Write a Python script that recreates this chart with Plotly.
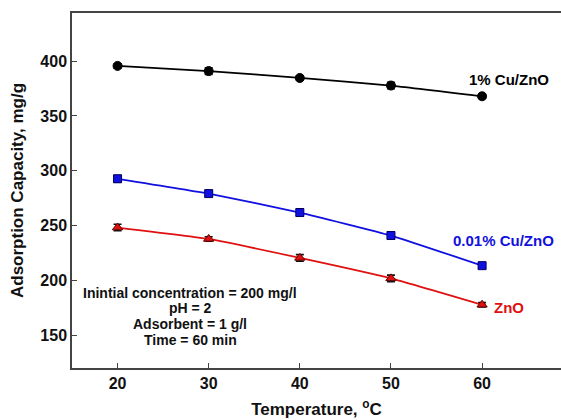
import plotly.graph_objects as go

temps = [20, 30, 40, 50, 60]
cu1 = [395.7, 391.0, 384.7, 377.8, 368.0]
cu1_err = [2, 3, 2, 3, 2]
cu001 = [292.7, 279.2, 261.9, 240.9, 213.4]
cu001_err = [3, 2, 3, 3, 2]
zno = [248.2, 237.8, 220.5, 201.8, 177.7]
zno_err = [3, 2, 3, 3, 2]

FONT = "Liberation Sans, Arial, sans-serif"

fig = go.Figure()

def add(y, err, color, edge, symbol, size):
    fig.add_trace(go.Scatter(
        x=temps, y=y, mode="lines+markers",
        line=dict(color=color, width=1.8, shape="spline", smoothing=0.4),
        marker=dict(symbol=symbol, size=size, color=color, line=dict(color=edge, width=1)),
        error_y=dict(type="data", array=err, visible=True, color="#111111", thickness=1.6, width=4),
        showlegend=False,
    ))

add(cu1, cu1_err, "#000000", "#000000", "circle", 9)
add(cu001, cu001_err, "#1010E0", "#000060", "square", 8)
add(zno, zno_err, "#E01010", "#600000", "triangle-up", 9)

ann = [
    dict(x=63, y=383.5, text="<b>1% Cu/ZnO</b>", color="#000000"),
    dict(x=62.4, y=236.3, text="<b>0.01% Cu/ZnO</b>", color="#1010E0"),
    dict(x=63.0, y=175.3, text="<b>ZnO</b>", color="#E01010"),
]
for a in ann:
    fig.add_annotation(x=a["x"], y=a["y"], xref="x", yref="y", text=a["text"], showarrow=False,
                       font=dict(family=FONT, size=15, color=a["color"]))

info = ["Inintial concentration = 200 mg/l", "pH = 2", "Adsorbent = 1 g/l", "Time = 60 min"]
info_y = [188.6, 174.4, 159.8, 145.2]
for t, yy in zip(info, info_y):
    fig.add_annotation(x=28, y=yy, xref="x", yref="y", text="<b>" + t + "</b>", showarrow=False,
                       font=dict(family=FONT, size=14, color="#111111"))

fig.update_layout(
    width=561, height=420,
    margin=dict(l=72, r=0, t=13, b=52),
    paper_bgcolor="white", plot_bgcolor="white",
    font=dict(family=FONT, color="#111111"),
)
fig.update_xaxes(
    range=[15, 68.66], tickvals=temps, ticktext=["<b>%d</b>" % t for t in temps],
    ticks="inside", ticklen=5, tickwidth=1.2, tickcolor="#444",
    showline=True, linecolor="#444", linewidth=1.5, mirror=True, showgrid=False, zeroline=False,
    tickfont=dict(family=FONT, size=16, color="#111"),
    title=dict(text="<b>Temperature, <sup>o</sup>C</b>", font=dict(family=FONT, size=17, color="#111"), standoff=12),
)
yt = [150, 200, 250, 300, 350, 400]
fig.update_yaxes(
    range=[120, 444], tickvals=yt, ticktext=["<b>%d</b>" % t for t in yt],
    ticks="inside", ticklen=5, tickwidth=1.2, tickcolor="#444",
    showline=True, linecolor="#444", linewidth=1.5, mirror=False, showgrid=False, zeroline=False,
    tickfont=dict(family=FONT, size=16, color="#111"),
    title=dict(text="<b>Adsorption Capacity, mg/g</b>", font=dict(family=FONT, size=17, color="#111"), standoff=12),
)

fig.write_html("out.html")
